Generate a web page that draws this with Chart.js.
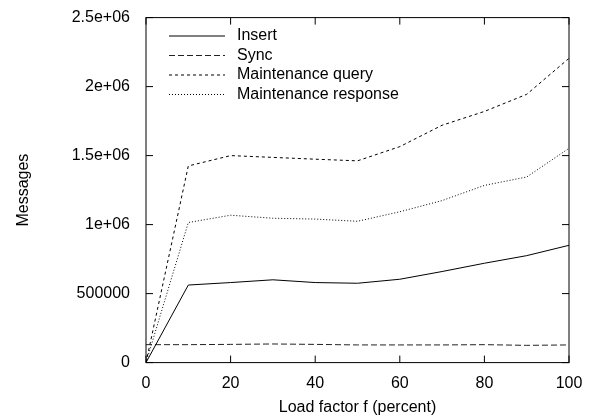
<!DOCTYPE html>
<html>
<head>
<meta charset="utf-8">
<script src="https://cdn.jsdelivr.net/npm/chart.js@4/dist/chart.umd.min.js"></script>
<style>
  html, body { margin: 0; padding: 0; background: #fff; }
  #wrap { width: 590px; height: 419px; }
</style>
</head>
<body>
<div id="wrap"><canvas id="c" width="590" height="419"></canvas></div>
<script>
var loadFactor = [0, 10, 20, 30, 40, 50, 60, 70, 80, 90, 100];
var insert = [0, 562000, 580000, 600000, 580000, 575000, 604000, 660000, 720000, 775000, 850000];
var sync = [130000, 130000, 132000, 135000, 132000, 128000, 128000, 128000, 130000, 125000, 128000];
var maintQuery = [0, 1425000, 1500000, 1487000, 1474000, 1462000, 1565000, 1720000, 1820000, 1944000, 2205000];
var maintResponse = [0, 1015000, 1068000, 1046000, 1040000, 1024000, 1093000, 1174000, 1284000, 1345000, 1553000];
var yTickLabels = ['0', '500000', '1e+06', '1.5e+06', '2e+06', '2.5e+06'];

var FONT = '"Liberation Sans", Arial, sans-serif';
var styles = [
  { label: 'Insert', data: insert, dash: [], color: '#000' },
  { label: 'Sync', data: sync, dash: [6, 3], color: '#222' },
  { label: 'Maintenance query', data: maintQuery, dash: [3, 3], color: '#000' },
  { label: 'Maintenance response', data: maintResponse, dash: [1, 2], color: '#000' }
];

function pts(arr) {
  return arr.map(function (v, i) { return { x: loadFactor[i], y: v }; });
}

var frame = {
  id: 'frame',
  afterDraw: function (chart) {
    var ctx = chart.ctx, a = chart.chartArea;
    var xs = chart.scales.x, ys = chart.scales.y;
    ctx.save();
    ctx.strokeStyle = '#000';
    ctx.lineWidth = 1;
    ctx.setLineDash([]);
    ctx.strokeRect(a.left, a.top, a.right - a.left, a.bottom - a.top);
    ctx.beginPath();
    for (var v = 0; v <= 100; v += 20) {
      var px = xs.getPixelForValue(v);
      ctx.moveTo(px, a.bottom); ctx.lineTo(px, a.bottom - 7);
      ctx.moveTo(px, a.top); ctx.lineTo(px, a.top + 7);
    }
    for (var y = 0; y <= 2500000; y += 500000) {
      var py = ys.getPixelForValue(y);
      ctx.moveTo(a.left, py); ctx.lineTo(a.left + 7, py);
      ctx.moveTo(a.right, py); ctx.lineTo(a.right - 7, py);
    }
    ctx.stroke();
    // legend
    ctx.font = '16px ' + FONT;
    ctx.fillStyle = '#000';
    ctx.textBaseline = 'middle';
    styles.forEach(function (s, i) {
      var ly = 36 + i * 19.5;
      ctx.beginPath();
      ctx.setLineDash(s.dash);
      ctx.strokeStyle = s.color;
      ctx.moveTo(169, ly); ctx.lineTo(225, ly);
      ctx.stroke();
      ctx.fillText(s.label, 237, ly);
    });
    ctx.restore();
  }
};

new Chart(document.getElementById('c'), {
  type: 'line',
  data: {
    datasets: styles.map(function (s) {
      return {
        label: s.label, data: pts(s.data), borderColor: s.color, borderWidth: 1,
        borderDash: s.dash, pointRadius: 0, fill: false, tension: 0
      };
    })
  },
  options: {
    responsive: false, animation: false,
    layout: { padding: { left: 10, right: 21, top: 8, bottom: 0 } },
    plugins: { legend: { display: false }, tooltip: { enabled: false } },
    scales: {
      x: {
        type: 'linear', min: 0, max: 100,
        grid: { display: false },
        border: { display: false },
        ticks: { stepSize: 20, color: '#000', font: { size: 16, family: FONT }, padding: 3 },
        title: { display: true, text: 'Load factor f (percent)', color: '#000', font: { size: 16, family: FONT }, padding: { top: 2, bottom: 2 } }
      },
      y: {
        min: 0, max: 2500000,
        grid: { display: false },
        border: { display: false },
        afterFit: function (s) { s.width = 136; },
        ticks: {
          stepSize: 500000, color: '#000', font: { size: 16, family: FONT }, padding: 8,
          callback: function (v) { return yTickLabels[Math.round(v / 500000)]; }
        },
        title: { display: true, text: 'Messages', color: '#000', font: { size: 16, family: FONT } }
      }
    }
  },
  plugins: [frame]
});
</script>
</body>
</html>
